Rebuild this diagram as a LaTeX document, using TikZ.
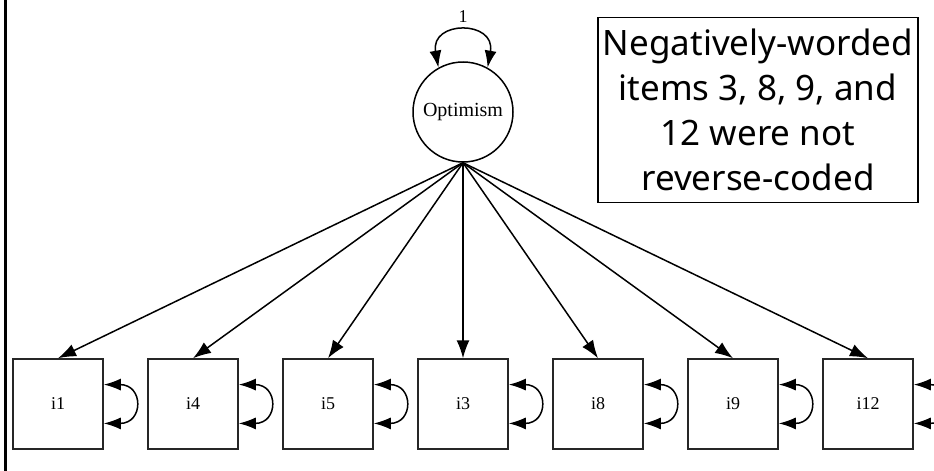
\documentclass[tikz,border=0pt]{standalone}
\usepackage{fontspec}
\setmainfont{Liberation Serif}
\newfontfamily\notefont{Noto Sans}
\usetikzlibrary{arrows.meta}
\begin{document}
\begin{tikzpicture}[x=1pt,y=-1pt,
  arr/.style={-{Latex[length=18pt,width=13pt]},line width=1.5pt},
  dbl/.style={{Latex[length=17pt,width=12pt]}-{Latex[length=17pt,width=12pt]},line width=1.5pt},
  item/.style={draw=black!85,line width=1.5pt,minimum width=90pt,minimum height=90pt,font=\fontsize{18}{18}\selectfont},
  latent/.style={draw,circle,line width=1.5pt,minimum size=100pt,inner sep=0pt,font=\fontsize{20}{20}\selectfont}]
\useasboundingbox (0,0) rectangle (934,471);
\draw[line width=3pt] (5.5,0) -- (5.5,471);
\node[latent] (opt) at (463,112) {Optimism};
\draw[dbl] (opt.119) .. controls (430,20) and (496,20) .. (opt.61);
\node[font=\fontsize{18}{18}\selectfont] (one) at (463,17) {1};
\foreach \n/\x in {1/58,4/193,5/328,3/463,8/598,9/733,12/868}
{
\node[item] (i\n) at (\x,404) {i\n};
\draw[arr] (opt.south) -- (i\n.north);
\draw[dbl] (i\n.23) .. controls +(40,0) and +(40,0) .. (i\n.-23);
}
\node[draw,line width=1.5pt,minimum width=320pt,minimum height=185pt,align=center,
  font=\notefont\fontsize{35}{45}\selectfont] (note) at (758,110)
  {Negatively-worded\\items 3, 8, 9, and\\12 were not\\reverse-coded};
\end{tikzpicture}
\end{document}
